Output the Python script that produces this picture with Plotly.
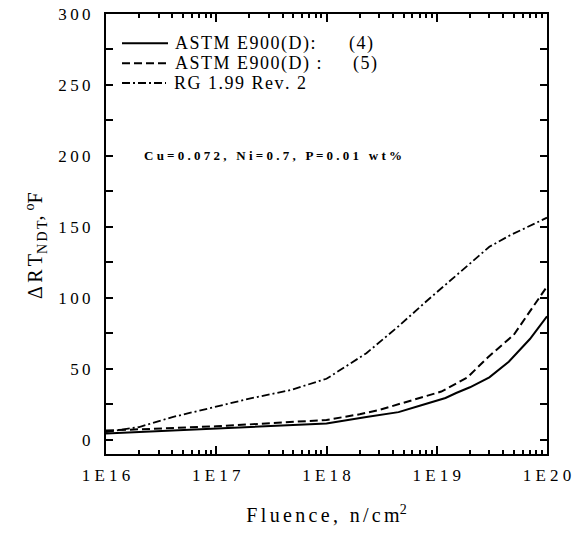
import plotly.graph_objects as go

# ---------------- data ----------------
fluence_astm4 = [1e16, 1e17, 1e18, 2.3e18, 4.5e18, 7e18, 1e19, 1.2e19, 1.5e19, 2e19, 3e19, 4.5e19, 7e19, 1e20]
dRT_astm4 = [4.5, 8, 11.5, 16, 19.5, 24, 28, 29.5, 33, 37, 44, 55, 71, 87]

fluence_astm5 = [1e16, 1e17, 1e18, 2e18, 3e18, 5e18, 1.1e19, 1.9e19, 2.9e19, 5e19, 7.6e19, 1e20]
dRT_astm5 = [6.5, 9.5, 14, 18, 21, 26, 34, 44, 58, 74, 94, 108]

fluence_rg = [1e16, 2e16, 4e16, 1.15e17, 2e17, 4.7e17, 1e18, 2.3e18, 4.5e18, 8.3e18,
              1.8e19, 2.2e19, 3e19, 4.6e19, 7e19, 1e20]
dRT_rg = [5.5, 9, 16, 24.5, 29, 35, 43, 61, 80, 98.5, 121, 127, 136, 144, 151, 156.5]

series_names = ["ASTM E900(D):", "ASTM E900(D) :", "RG 1.99 Rev. 2"]
series_refs = ["(4)", "(5)", ""]

x_tick_vals = [1e16, 1e17, 1e18, 1e19, 1e20]
x_tick_labels = ["1E16", "1E17", "1E18", "1E19", "1E20"]
y_tick_vals = [0, 50, 100, 150, 200, 250, 300]
y_tick_labels = ["0", "50", "100", "150", "200", "250", "300"]

FONT = "Liberation Serif, Times New Roman, serif"
THIN = "\u2009"
SIX = "\u2006"
HAIR = "\u200a"


def spaced(s, sep=" "):
    return sep.join(list(s))


styles = [dict(color="black", width=2, dash="solid"),
          dict(color="black", width=2, dash="8px,4px"),
          dict(color="black", width=1.8, dash="8px,3px,2px,3px")]

fig = go.Figure()
for xs, ys, nm, st in zip([fluence_astm4, fluence_astm5, fluence_rg],
                          [dRT_astm4, dRT_astm5, dRT_rg], series_names, styles):
    fig.add_trace(go.Scatter(x=xs, y=ys, mode="lines", name=nm, line=st, showlegend=False))

# plot area in pixels: x 106..547, y 14..454
PL, PR, PT, PB = 106, 547, 14, 454


def px(xp):
    return (xp - PL) / (PR - PL)


def py(yp):
    return (PB - yp) / (PB - PT)


# custom legend (key lines + labels) in paper coordinates
leg_rows = [43.3, 63.3, 83]
leg_x0 = [122, 122, 122]
leg_x1 = [168, 168, 166]
leg_text_x = [173, 173, 172]
ref_text_x = [347, 351, None]
for i in range(3):
    fig.add_shape(type="line", xref="paper", yref="paper",
                  x0=px(leg_x0[i]), x1=px(leg_x1[i]), y0=py(leg_rows[i]), y1=py(leg_rows[i]),
                  line=styles[i])
    fig.add_annotation(xref="paper", yref="paper", x=px(leg_text_x[i]), y=py(leg_rows[i]),
                       xanchor="left", yanchor="middle", showarrow=False,
                       text=spaced(series_names[i], HAIR),
                       font=dict(size=18, family=FONT, color="black"))
    if series_refs[i]:
        fig.add_annotation(xref="paper", yref="paper", x=px(ref_text_x[i]), y=py(leg_rows[i]),
                           xanchor="left", yanchor="middle", showarrow=False,
                           text=spaced(series_refs[i], HAIR),
                           font=dict(size=18, family=FONT, color="black"))

fig.update_layout(
    width=572, height=534,
    margin=dict(l=PL, r=572 - PR, t=PT, b=534 - PB, autoexpand=False),
    paper_bgcolor="white", plot_bgcolor="white",
    font=dict(family=FONT, color="black", size=17),
    showlegend=False,
    xaxis=dict(type="log", range=[16, 20], automargin=False,
               tickmode="array", tickvals=x_tick_vals,
               ticktext=[spaced(t) for t in x_tick_labels],
               ticks="inside", ticklen=8, tickwidth=1.5, tickcolor="black",
               minor=dict(dtick="D1", ticks="inside", ticklen=4, tickwidth=1.5, tickcolor="black"),
               showline=True, linewidth=2, linecolor="black", mirror="allticks",
               showgrid=False, zeroline=False,
               tickfont=dict(size=17, family=FONT),
               ticklabelstandoff=5,
               title=dict(text=spaced("Fluence, n/cm", SIX) + "<sup>2</sup>",
                          font=dict(size=20, family=FONT), standoff=24)),
    yaxis=dict(range=[-10, 300], automargin=False,
               tickmode="array", tickvals=y_tick_vals,
               ticktext=[spaced(t, THIN) for t in y_tick_labels],
               ticks="inside", ticklen=7, tickwidth=1.5, tickcolor="black",
               minor=dict(dtick=25, ticks="inside", ticklen=7, tickwidth=1.5, tickcolor="black"),
               showline=True, linewidth=2, linecolor="black", mirror="allticks",
               showgrid=False, zeroline=False,
               tickfont=dict(size=17, family=FONT),
               ticklabelstandoff=10),
)

# y-axis title as rotated annotation (placed slightly below plot centre like the reference)
fig.add_annotation(
    xref="paper", yref="paper", x=px(36), y=py(246), xanchor="center", yanchor="middle",
    textangle=-90, showarrow=False,
    text=spaced("\u0394RT", SIX) + "<sub>" + spaced("NDT", SIX) + "</sub>, <sup>o</sup>F",
    font=dict(size=20, family=FONT, color="black"))

fig.add_annotation(
    xref="paper", yref="y", x=px(142), y=200, xanchor="left", yanchor="middle",
    text="<b>" + spaced("Cu=0.072, Ni=0.7, P=0.01 wt%") + "</b>",
    showarrow=False, font=dict(size=13, family=FONT, color="black"))

fig.write_html("out.html")
